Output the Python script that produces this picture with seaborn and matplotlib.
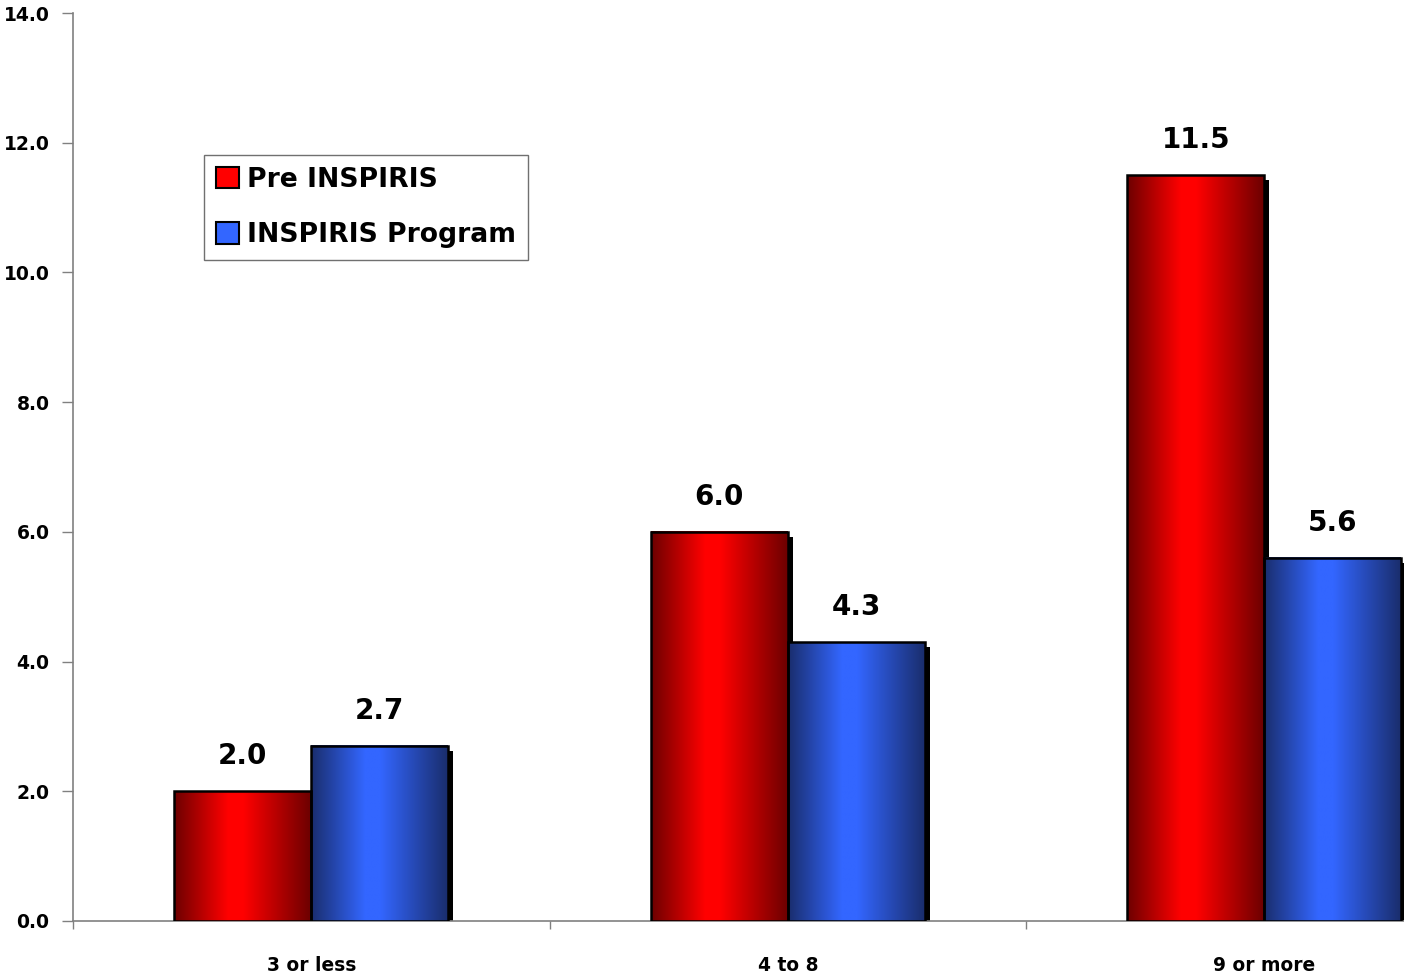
import numpy as np
import pandas as pd
import matplotlib
matplotlib.use("Agg")
import matplotlib.pyplot as plt
import matplotlib.patheffects as pe
from matplotlib.colors import LinearSegmentedColormap
from matplotlib.patches import Patch, Rectangle
import seaborn as sns

categories = ["3 or less", "4 to 8", "9 or more"]
series_names = ["Pre INSPIRIS", "INSPIRIS Program"]
pre_values = [2.0, 6.0, 11.5]
program_values = [2.7, 4.3, 5.6]
y_ticks = [0, 2, 4, 6, 8, 10, 12, 14]

df = pd.DataFrame({
    "group": categories * 2,
    "series": [series_names[0]] * 3 + [series_names[1]] * 3,
    "value": pre_values + program_values,
})

red_mid, red_dark = "#ff0000", "#6e0000"
blue_mid, blue_dark = "#3366ff", "#1a2e6e"

sns.set_theme(style="white")
plt.rcParams["font.family"] = ["DejaVu Sans"]
plt.rcParams["font.weight"] = "bold"
plt.rcParams["text.color"] = "black"
plt.rcParams["xtick.color"] = "black"
plt.rcParams["ytick.color"] = "black"

fig = plt.figure(figsize=(14.04, 9.76), dpi=100)
ax = fig.add_axes([73 / 1404, 1 - 921 / 976, 1429.5 / 1404, (921 - 13) / 976])

sns.barplot(data=df, x="group", y="value", hue="series", order=categories,
            hue_order=series_names, palette=[red_mid, blue_mid], width=0.575,
            saturation=1, edgecolor="black", linewidth=0, legend=False,
            ax=ax, zorder=2)

# horizontal shading: dark edges, bright band just left of centre
ramp = np.concatenate([np.linspace(0, 1, 40), np.ones(10), np.linspace(1, 0, 50)])
cmaps = {
    0: LinearSegmentedColormap.from_list("redramp", [red_dark, red_mid]),
    1: LinearSegmentedColormap.from_list("blueramp", [blue_dark, blue_mid]),
}

bars = [p for p in ax.patches if isinstance(p, Rectangle)]
for i, bar in enumerate(bars):
    s = i // len(categories)
    x0, w, h = bar.get_x(), bar.get_width(), bar.get_height()
    bar.set_path_effects([
        pe.SimplePatchShadow(offset=(3.6, -3.6), shadow_rgbFace="black", alpha=1.0),
        pe.Normal(),
    ])
    ax.imshow(ramp[np.newaxis, :], cmap=cmaps[s], aspect="auto",
              extent=(x0, x0 + w, 0, h), zorder=3, interpolation="bilinear")
    ax.add_patch(Rectangle((x0, 0), w, h, fill=False, edgecolor="black",
                           linewidth=1.8, zorder=4))
    ax.annotate(f"{h:.1f}", (x0 + w / 2, h), xytext=(0, 15),
                textcoords="offset points", ha="center", va="bottom",
                fontsize=20, fontweight="bold", color="black")

ax.set_xlim(-0.5, 2.5)
ax.set_ylim(0, 14)
ax.set_yticks(y_ticks)
ax.set_yticklabels([f"{t:.1f}" for t in y_ticks], fontsize=13.5, fontweight="bold")
ax.set_xticks(range(len(categories)))
ax.set_xticklabels(categories, fontsize=13.4, fontweight="bold")
ax.set_xticks([-0.5, 0.5, 1.5], minor=True)
ax.tick_params(axis="x", which="major", length=0, pad=25, labelcolor="black")
ax.tick_params(axis="x", which="minor", length=6, width=1, color="#808080",
               direction="out", bottom=True)
ax.tick_params(axis="y", length=8, width=1, color="#808080", direction="out",
               left=True, pad=9, labelcolor="black")
ax.set_xlabel("")
ax.set_ylabel("")

for side in ["top", "right"]:
    ax.spines[side].set_visible(False)
for side in ["left", "bottom"]:
    ax.spines[side].set_color("#808080")
    ax.spines[side].set_linewidth(1.2)

handles = [Patch(facecolor=red_mid, edgecolor="black", linewidth=1.5),
           Patch(facecolor=blue_mid, edgecolor="black", linewidth=1.5)]
leg = ax.legend(handles, series_names, loc="upper left",
                bbox_to_anchor=(204 / 1404, 1 - 155 / 976),
                bbox_transform=fig.transFigure, fancybox=False, frameon=True,
                edgecolor="#707070", framealpha=1, handlelength=0.85,
                handleheight=0.85, handletextpad=0.3, borderpad=0.45,
                labelspacing=1.1, borderaxespad=0, labelcolor="black",
                prop={"size": 19.2, "weight": "bold"})
leg.get_frame().set_linewidth(1.0)

fig.savefig("out.png", dpi=100)
